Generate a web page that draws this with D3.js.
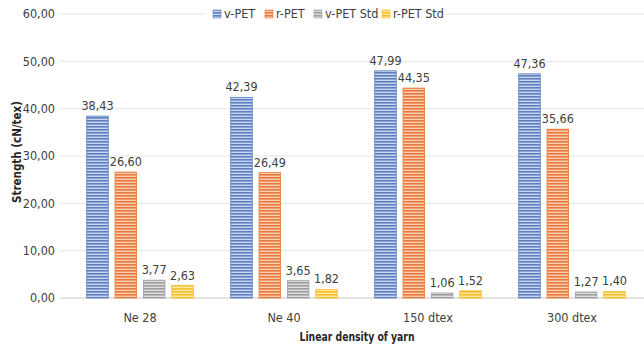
<!DOCTYPE html>
<html><head><meta charset="utf-8">
<script src="https://cdn.jsdelivr.net/npm/d3@7"></script>
<style>
body{margin:0;background:#fff;}
text{font-family:"DejaVu Sans Condensed","DejaVu Sans",sans-serif;font-stretch:condensed;}
</style></head>
<body>
<svg id="chart" width="644" height="346"></svg>
<script>
const categories = ["Ne 28", "Ne 40", "150 dtex", "300 dtex"];
const seriesNames = ["v-PET", "r-PET", "v-PET Std", "r-PET Std"];
const vPET = [38.43, 42.39, 47.99, 47.36];
const rPET = [26.60, 26.49, 44.35, 35.66];
const vPETStd = [3.77, 3.65, 1.06, 1.27];
const rPETStd = [2.63, 1.82, 1.52, 1.40];
const yTicks = [0, 10, 20, 30, 40, 50, 60];

const seriesValues = [vPET, rPET, vPETStd, rPETStd];
const colors = [
  {dark:"#5b7fc0", light:"#c9d6ee"},
  {dark:"#e9783a", light:"#f8cfb2"},
  {dark:"#9e9e9e", light:"#dedede"},
  {dark:"#f5be2a", light:"#fde9a6"}
];

const svg = d3.select("#chart");
const margin = {left:68, right:0, top:14, bottom:48};
const W = 644, H = 346;
const x0 = d3.scaleBand().domain(categories).range([margin.left, W - margin.right]).paddingInner(0.26).paddingOuter(0.13);
const x1 = d3.scaleBand().domain(seriesNames).range([0, x0.bandwidth()]).paddingInner(0.24);
const y = d3.scaleLinear().domain([0, 60]).range([298, 14]);

const fmt = v => d3.format(".2f")(v).replace(".", ",");

const defs = svg.append("defs");
colors.forEach((c, i) => {
  const p = defs.append("pattern").attr("id", "pat" + i).attr("patternUnits", "userSpaceOnUse")
    .attr("width", 6).attr("height", 3);
  p.append("rect").attr("width", 6).attr("height", 3).attr("fill", c.light);
  p.append("rect").attr("y", 0).attr("width", 6).attr("height", 1.6).attr("fill", c.dark);
});

svg.append("g").selectAll("line").data(yTicks).join("line")
  .attr("x1", 60).attr("x2", W).attr("y1", d => y(d)).attr("y2", d => y(d))
  .attr("stroke", d => d === 0 ? "#c8c8c8" : "#e4e4e4").attr("stroke-width", 1);

svg.append("g").selectAll("text").data(yTicks).join("text")
  .attr("x", 55).attr("y", d => y(d)).attr("dy", "0.35em").attr("text-anchor", "end")
  .attr("font-size", 12.5).attr("fill", "#404040").text(d => fmt(d));

const groups = svg.append("g").selectAll("g").data(categories).join("g")
  .attr("transform", d => `translate(${x0(d)},0)`);
groups.each(function(cat, ci) {
  const g = d3.select(this);
  seriesNames.forEach((s, si) => {
    const v = seriesValues[si][ci];
    g.append("rect").attr("x", x1(s)).attr("y", y(v)).attr("width", x1.bandwidth())
      .attr("height", y(0) - y(v)).attr("fill", `url(#pat${si})`)
      .attr("stroke", colors[si].dark).attr("stroke-width", 0.8);
    g.append("text").attr("x", x1(s) + x1.bandwidth() / 2).attr("y", y(v) - 6)
      .attr("text-anchor", "middle").attr("font-size", 12.5).attr("fill", "#404040").text(fmt(v));
  });
});

svg.append("g").selectAll("text").data(categories).join("text")
  .attr("x", d => x0(d) + x0.bandwidth() / 2).attr("y", 322).attr("text-anchor", "middle")
  .attr("font-size", 12.5).attr("fill", "#404040").text(d => d);

svg.append("text").attr("x", 357).attr("y", 341).attr("text-anchor", "middle")
  .attr("font-size", 12.5).attr("font-weight", "bold").attr("fill", "#262626")
  .attr("textLength", 115).attr("lengthAdjust", "spacingAndGlyphs").text("Linear density of yarn");
svg.append("text").attr("transform", "translate(21,152) rotate(-90)").attr("text-anchor", "middle")
  .attr("font-size", 12.5).attr("font-weight", "bold").attr("fill", "#262626")
  .attr("textLength", 102).attr("lengthAdjust", "spacingAndGlyphs").text("Strength (cN/tex)");

const legend = svg.append("g");
legend.append("rect").attr("x", 206).attr("y", 4).attr("width", 240).attr("height", 20).attr("fill", "#fff");
const legX = [213, 265, 314, 382];
seriesNames.forEach((s, i) => {
  legend.append("rect").attr("x", legX[i]).attr("y", 10).attr("width", 8).attr("height", 8)
    .attr("fill", `url(#pat${i})`).attr("stroke", colors[i].dark).attr("stroke-width", 0.6);
  legend.append("text").attr("x", legX[i] + 11).attr("y", 14).attr("dy", "0.35em")
    .attr("font-size", 12.5).attr("fill", "#404040").text(s);
});
</script>
</body></html>
